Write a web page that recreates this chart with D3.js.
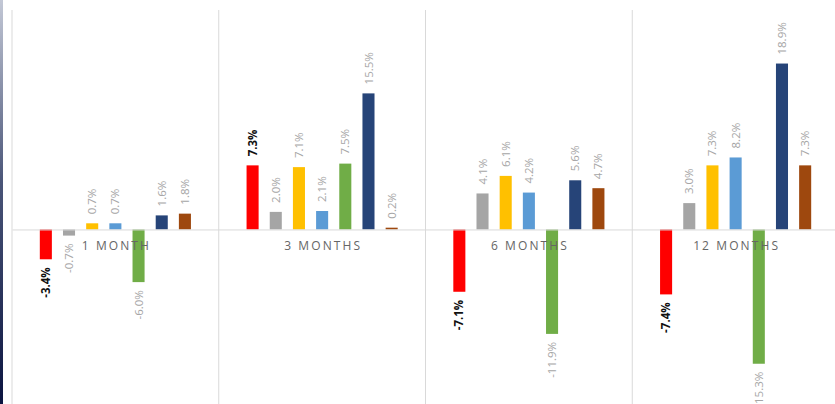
<!DOCTYPE html>
<html>
<head>
<meta charset="utf-8">
<script src="https://cdn.jsdelivr.net/npm/d3@7"></script>
<style>
  body { margin: 0; background: #fff; }
  svg { display: block; }
</style>
</head>
<body>
<div id="chart"></div>
<script>
var categories = ["1 MONTH", "3 MONTHS", "6 MONTHS", "12 MONTHS"];
var seriesNames = ["S1", "S2", "S3", "S4", "S5", "S6", "S7"];

// one array per series, in category order
var s1 = [-3.4, 7.3, -7.1, -7.4];
var s2 = [-0.7, 2.0, 4.1, 3.0];
var s3 = [0.7, 7.1, 6.1, 7.3];
var s4 = [0.7, 2.1, 4.2, 8.2];
var s5 = [-6.0, 7.5, -11.9, -15.3];
var s6 = [1.6, 15.5, 5.6, 18.9];
var s7 = [1.8, 0.2, 4.7, 7.3];

var seriesValues = [s1, s2, s3, s4, s5, s6, s7];
var seriesColors = ["#ff0000", "#a5a5a5", "#ffc000", "#5b9bd5", "#70ad47", "#264478", "#9e480e"];

function init(){
  var w = 835;
  var h = 404;

  var svg = d3.select("#chart")
              .append("svg")
              .attr("width", w)
              .attr("height", h);

  // dark strip on the left edge
  var grad = svg.append("defs").append("linearGradient")
                .attr("id", "edge")
                .attr("x1", 0).attr("y1", 0)
                .attr("x2", 0).attr("y2", 1);
  grad.append("stop").attr("offset", "0%").attr("stop-color", "#c3c8d6");
  grad.append("stop").attr("offset", "45%").attr("stop-color", "#4a5578");
  grad.append("stop").attr("offset", "100%").attr("stop-color", "#0b1440");

  svg.append("rect")
     .attr("x", 0).attr("y", 0)
     .attr("width", 3).attr("height", h)
     .attr("fill", "url(#edge)");

  var x0 = d3.scaleBand()
             .domain(categories)
             .range([12, 839])
             .paddingInner(0)
             .paddingOuter(0);

  var x1 = d3.scaleBand()
             .domain(seriesNames)
             .range([0, x0.bandwidth()])
             .paddingInner(0.48)
             .paddingOuter(1.2);

  var y = d3.scaleLinear()
            .domain([-20, 25])
            .range([405, 10]);

  // vertical separators between categories
  var seps = categories.map(function(c){ return x0(c); });
  seps.push(x0.range()[1]);

  svg.selectAll("line.sep")
     .data(seps)
     .enter()
     .append("line")
     .attr("class", "sep")
     .attr("x1", function(d){ return d; })
     .attr("x2", function(d){ return d; })
     .attr("y1", y(25))
     .attr("y2", y(-20))
     .attr("stroke", "#d9d9d9")
     .attr("stroke-width", 1);

  // flatten into bar records
  var bars = [];
  seriesNames.forEach(function(s, si){
    categories.forEach(function(c, ci){
      bars.push({ series: s, idx: si, cat: c, value: seriesValues[si][ci] });
    });
  });

  svg.selectAll("rect.bar")
     .data(bars)
     .enter()
     .append("rect")
     .attr("class", "bar")
     .attr("x", function(d){ return x0(d.cat) + x1(d.series); })
     .attr("y", function(d){ return y(Math.max(0, d.value)); })
     .attr("width", x1.bandwidth())
     .attr("height", function(d){ return Math.abs(y(d.value) - y(0)); })
     .attr("fill", function(d){ return seriesColors[d.idx]; });

  // zero line + category labels
  var xAxis = d3.axisBottom(x0)
                .tickSize(0)
                .tickPadding(12);

  var gx = svg.append("g")
              .attr("transform", "translate(0," + y(0) + ")")
              .call(xAxis);

  gx.select(".domain").attr("stroke", "#d9d9d9");
  gx.selectAll("text")
    .attr("fill", "#666")
    .attr("dx", "1px")
    .style("font-family", "'Open Sans', sans-serif")
    .style("font-size", "12px")
    .style("letter-spacing", "2.1px");

  // value labels, rotated
  svg.selectAll("text.val")
     .data(bars)
     .enter()
     .append("text")
     .attr("class", "val")
     .attr("transform", function(d){
        var cx = x0(d.cat) + x1(d.series) + x1.bandwidth() / 2;
        var cy = d.value >= 0 ? y(d.value) - 9 : y(d.value) + 8;
        return "translate(" + cx + "," + cy + ") rotate(-90)";
     })
     .attr("dy", "0.35em")
     .attr("text-anchor", function(d){ return d.value >= 0 ? "start" : "end"; })
     .attr("fill", function(d){ return d.idx == 0 ? "#111" : "#a6a6a6"; })
     .style("font-family", "'Liberation Sans Narrow', 'Open Sans', sans-serif")
     .style("font-size", "11.5px")
     .style("font-weight", function(d){ return d.idx == 0 ? "bold" : "normal"; })
     .text(function(d){ return d.value.toFixed(1) + "%"; });
}

window.onload = init;
</script>
</body>
</html>
